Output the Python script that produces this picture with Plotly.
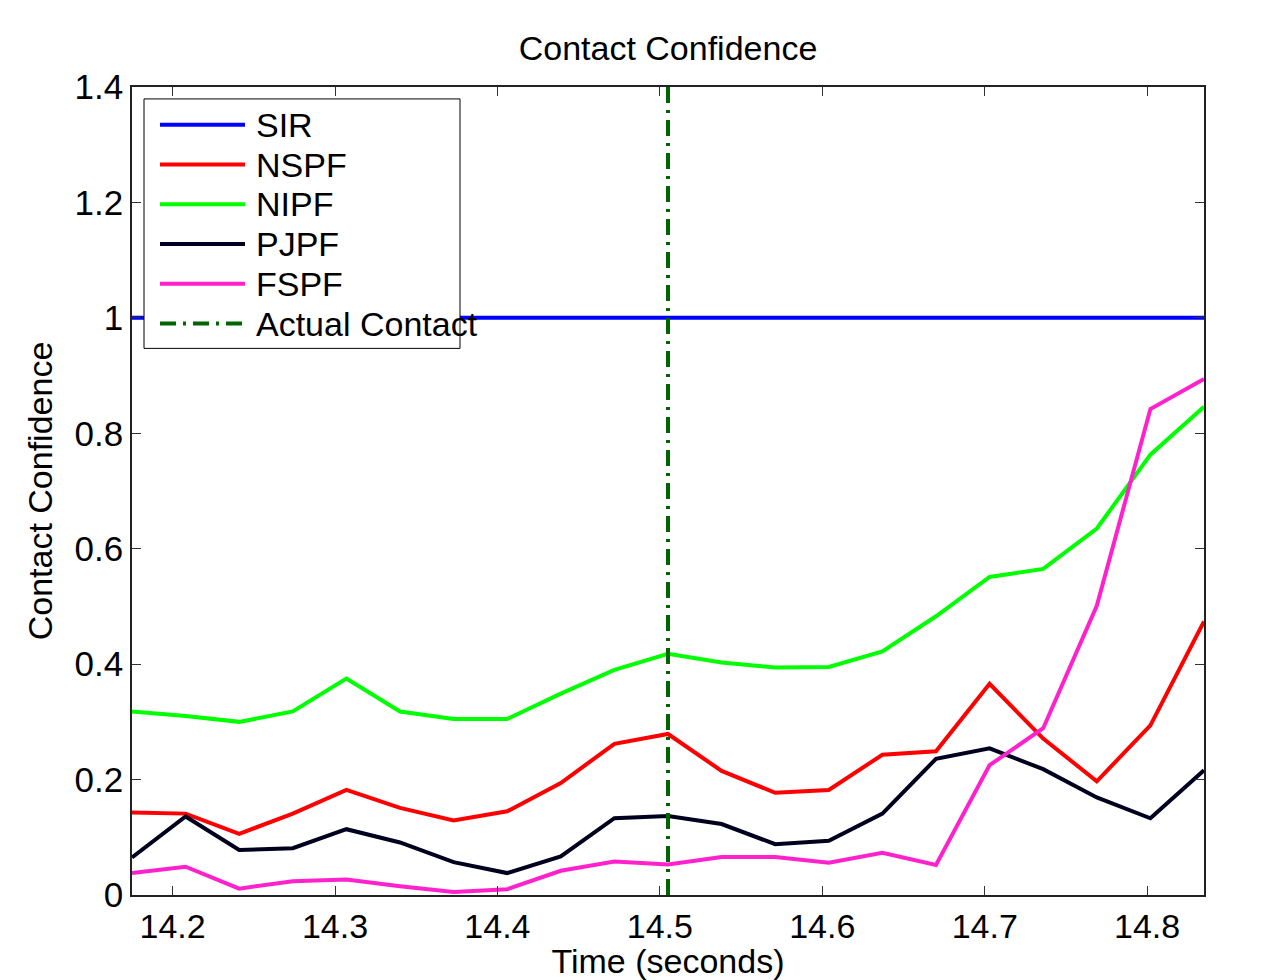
import plotly.graph_objects as go

# ---------------- data ----------------
t0 = 14.175
dt = 0.033
n_pts = 21
time = [round(t0 + i * dt, 4) for i in range(n_pts)]

sir = [1.0] * n_pts
nspf = [0.143, 0.141, 0.106, 0.141, 0.182, 0.151, 0.129, 0.145, 0.194, 0.262, 0.279,
        0.215, 0.177, 0.182, 0.243, 0.249, 0.366, 0.271, 0.197, 0.294, 0.474]
nipf = [0.318, 0.310, 0.300, 0.318, 0.375, 0.318, 0.305, 0.305, 0.349, 0.390, 0.418,
        0.403, 0.394, 0.395, 0.422, 0.483, 0.551, 0.565, 0.635, 0.763, 0.846]
pjpf = [0.065, 0.136, 0.078, 0.081, 0.114, 0.091, 0.057, 0.038, 0.067, 0.133, 0.137,
        0.123, 0.088, 0.094, 0.141, 0.236, 0.254, 0.218, 0.169, 0.133, 0.216]
fspf = [0.038, 0.049, 0.011, 0.024, 0.027, 0.015, 0.005, 0.010, 0.042, 0.058, 0.053,
        0.066, 0.066, 0.056, 0.073, 0.052, 0.225, 0.289, 0.501, 0.842, 0.894]
contact_time = 14.505
contact_y = [0, 1.4]

series_names = ["SIR", "NSPF", "NIPF", "PJPF", "FSPF"]
series_vals = [sir, nspf, nipf, pjpf, fspf]
series_colors = ["#0000FF", "#FF0000", "#00FF00", "#00001E", "#FF22CC"]
contact_name = "Actual Contact"
contact_color = "#006400"

x_tickvals = [14.2, 14.3, 14.4, 14.5, 14.6, 14.7, 14.8]
x_ticktext = ["14.2", "14.3", "14.4", "14.5", "14.6", "14.7", "14.8"]
y_tickvals = [0, 0.2, 0.4, 0.6, 0.8, 1.0, 1.2, 1.4]
y_ticktext = ["0", "0.2", "0.4", "0.6", "0.8", "1", "1.2", "1.4"]

# ---------------- figure ----------------
W, H = 1284, 980
ML, MR, MT, MB = 132, 80, 87, 80
FONT = "Liberation Sans, Arial, Helvetica, sans-serif"
LW = 4
DASH = "16px,7px,3px,7px"

fig = go.Figure()
for name, vals, col in zip(series_names, series_vals, series_colors):
    fig.add_trace(go.Scatter(x=time, y=vals, mode="lines", name=name,
                             line=dict(color=col, width=LW), showlegend=False))
fig.add_trace(go.Scatter(x=[contact_time, contact_time], y=contact_y, mode="lines",
                         name=contact_name, showlegend=False,
                         line=dict(color=contact_color, width=LW, dash=DASH)))

def px2paper(px, py):
    return (px - ML) / (W - ML - MR), (H - MB - py) / (H - MT - MB)

shapes = []
annotations = []
# legend box
x0, y0 = px2paper(144, 99)
x1, y1 = px2paper(460, 350)
shapes.append(dict(type="rect", xref="paper", yref="paper", x0=x0, y0=y1, x1=x1, y1=y0,
                   fillcolor="white", line=dict(color="black", width=1), layer="above"))
legend_items = list(zip(series_names, series_colors)) + [(contact_name, contact_color)]
for i, (name, col) in enumerate(legend_items):
    py = 125 + 40 * i
    lx0, ly = px2paper(160, py)
    lx1, _ = px2paper(245, py)
    dash = "solid" if name != contact_name else DASH
    shapes.append(dict(type="line", xref="paper", yref="paper", x0=lx0, x1=lx1, y0=ly, y1=ly,
                       line=dict(color=col, width=LW, dash=dash), layer="above"))
    tx, _ = px2paper(254, py)
    annotations.append(dict(x=tx, y=ly, xref="paper", yref="paper", text=name,
                            showarrow=False, xanchor="left", yanchor="middle",
                            font=dict(family=FONT, size=34, color="black")))

fig.update_layout(
    width=W, height=H,
    margin=dict(l=ML, r=MR, t=MT, b=MB),
    paper_bgcolor="white", plot_bgcolor="white",
    title=dict(text="Contact Confidence", x=(ML + (W - ML - MR) / 2) / W, xanchor="center",
               y=1 - 48 / H, yanchor="middle",
               font=dict(family=FONT, size=34, color="black")),
    font=dict(family=FONT, color="black"),
    shapes=shapes, annotations=annotations,
    showlegend=False,
)
fig.update_xaxes(range=[t0, t0 + dt * (n_pts - 1)], tickvals=x_tickvals, ticktext=x_ticktext,
                 ticks="inside", ticklen=9, tickcolor="#333", tickwidth=1,
                 showline=True, linecolor="#222", linewidth=1.5, mirror="ticks",
                 showgrid=False, zeroline=False,
                 tickfont=dict(family=FONT, size=34, color="black"),
                 title=dict(text="Time (seconds)", standoff=0,
                            font=dict(family=FONT, size=34, color="black")))
fig.update_yaxes(range=[0, 1.4], tickvals=y_tickvals, ticktext=y_ticktext,
                 ticks="inside", ticklen=9, tickcolor="#333", tickwidth=1,
                 showline=True, linecolor="#222", linewidth=1.5, mirror="ticks",
                 showgrid=False, zeroline=False,
                 tickfont=dict(family=FONT, size=35, color="black"),
                 title=dict(text="Contact Confidence", standoff=12,
                            font=dict(family=FONT, size=34, color="black")))

fig.write_html("out.html")
